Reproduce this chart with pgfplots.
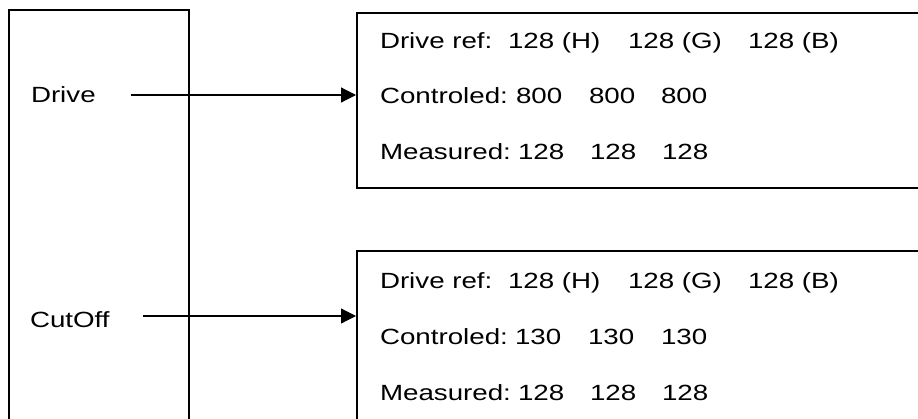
\documentclass[border=0pt]{standalone}
\usepackage{fontspec}
\setmainfont{Liberation Sans}
\usepackage{graphicx}
\usepackage{pgfplots}
\pgfplotsset{compat=1.18}
\usetikzlibrary{arrows.meta}
\newcommand{\T}[1]{\scalebox{1.26}[1]{\fontsize{22}{26}\selectfont #1}}
\tikzset{lbl/.style={anchor=base west, inner sep=0pt, outer sep=0pt}}
\begin{document}
\begin{tikzpicture}
\begin{axis}[
  width=918pt, height=418pt, scale only axis,
  xmin=0, xmax=918, ymin=0, ymax=418, y dir=reverse,
  hide axis, clip=true,
]
% boxes
\addplot[line width=1.5pt, black] coordinates {(9,440) (9,10) (189,10) (189,440)};
\addplot[line width=1.5pt, black] coordinates {(940,13) (357,13) (357,188) (940,188)};
\addplot[line width=1.5pt, black] coordinates {(940,251) (357,251) (357,440)};
% arrows
\addplot[line width=1.2pt, black, -{Triangle[length=15pt,width=15pt]}] coordinates {(131,95) (356,95)};
\addplot[line width=1.2pt, black, -{Triangle[length=15pt,width=15pt]}] coordinates {(143,316) (356,316)};
% left labels
\node[lbl] at (axis cs:31,102) {\T{Drive}};
\node[lbl] at (axis cs:30,327) {\T{CutOff}};
% top box
\node[lbl] at (axis cs:380,48) {\T{Drive ref:}};
\node[lbl] at (axis cs:508,48) {\T{128 (H)}};
\node[lbl] at (axis cs:628,48) {\T{128 (G)}};
\node[lbl] at (axis cs:748,48) {\T{128 (B)}};
\node[lbl] at (axis cs:380,103) {\T{Controled:}};
\node[lbl] at (axis cs:516,103) {\T{800}};
\node[lbl] at (axis cs:589,103) {\T{800}};
\node[lbl] at (axis cs:661,103) {\T{800}};
\node[lbl] at (axis cs:380,159) {\T{Measured:}};
\node[lbl] at (axis cs:518,159) {\T{128}};
\node[lbl] at (axis cs:590,159) {\T{128}};
\node[lbl] at (axis cs:662,159) {\T{128}};
% bottom box
\node[lbl] at (axis cs:380,288) {\T{Drive ref:}};
\node[lbl] at (axis cs:508,288) {\T{128 (H)}};
\node[lbl] at (axis cs:628,288) {\T{128 (G)}};
\node[lbl] at (axis cs:748,288) {\T{128 (B)}};
\node[lbl] at (axis cs:380,344) {\T{Controled:}};
\node[lbl] at (axis cs:515,344) {\T{130}};
\node[lbl] at (axis cs:588,344) {\T{130}};
\node[lbl] at (axis cs:661,344) {\T{130}};
\node[lbl] at (axis cs:380,400) {\T{Measured:}};
\node[lbl] at (axis cs:518,400) {\T{128}};
\node[lbl] at (axis cs:590,400) {\T{128}};
\node[lbl] at (axis cs:662,400) {\T{128}};
\end{axis}
\pgfresetboundingbox
\path (current axis.south west) rectangle (current axis.north east);
\end{tikzpicture}
\end{document}
